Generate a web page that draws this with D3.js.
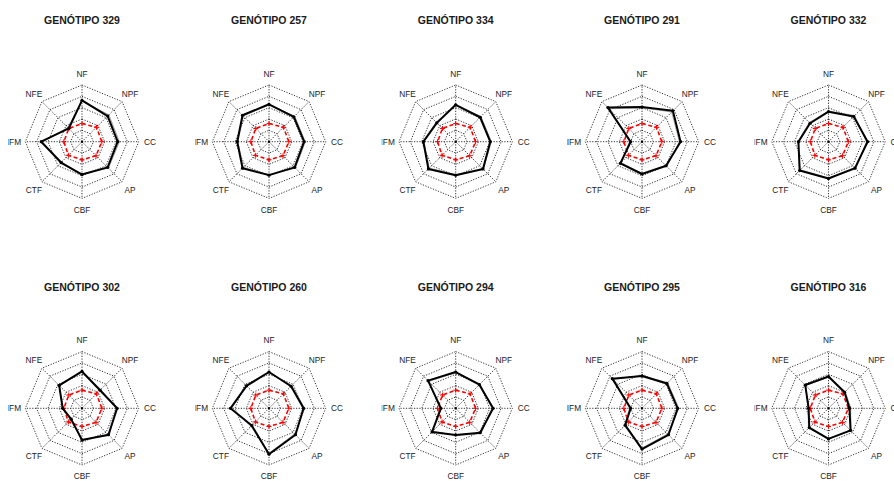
<!DOCTYPE html>
<html>
<head>
<meta charset="utf-8">
<script src="https://cdn.jsdelivr.net/npm/d3@7/dist/d3.min.js"></script>
<style>
  html, body { margin: 0; padding: 0; background: #fff; }
  svg { display: block; }
</style>
</head>
<body>
<svg id="chart" width="894" height="481"></svg>
<script>
// Axis order, clockwise from the top
const axes = ["NF", "NPF", "CC", "AP", "CBF", "CTF", "IFM", "NFE"];

// Genotype identifiers, panel order (row by row)
const genotypes = ["329", "257", "334", "291", "332", "302", "260", "294", "295", "316"];

// Scaled trait index (0-100) per genotype, in axis order
const g329 = [73, 64, 63, 64, 58, 52, 72, 33];
const g257 = [66, 62, 62, 64, 59, 66, 56, 66];
const g334 = [65, 61, 61, 68, 59, 68, 57, 47];
const g291 = [61, 77, 68, 60, 57, 54, 20, 85];
const g332 = [53, 63, 69, 66, 65, 72, 53, 46];
const g302 = [65, 45, 62, 66, 56, 27, 34, 57];
const g260 = [64, 55, 61, 66, 81, 43, 68, 56];
const g294 = [64, 59, 66, 61, 47, 59, 26, 69];
const g295 = [57, 62, 63, 66, 72, 42, 20, 74];
const g316 = [56, 40, 37, 55, 54, 48, 35, 58];
const genotypeValues = [g329, g257, g334, g291, g332, g302, g260, g294, g295, g316];

// Companion profile (thin grey trace) per genotype
const c329 = [72, 67, 66, 66, 57, 54, 70, 35];
const c257 = [65, 64, 64, 66, 58, 64, 55, 64];
const c334 = [64, 63, 63, 69, 58, 66, 56, 49];
const c291 = [60, 74, 66, 62, 56, 52, 22, 82];
const c332 = [54, 65, 67, 68, 64, 70, 54, 48];
const c302 = [64, 47, 60, 68, 55, 29, 35, 56];
const c260 = [63, 57, 63, 64, 79, 45, 66, 57];
const c294 = [63, 61, 64, 63, 48, 57, 28, 67];
const c295 = [58, 64, 65, 64, 70, 44, 22, 72];
const c316 = [55, 42, 39, 56, 53, 50, 36, 57];
const companionValues = [c329, c257, c334, c291, c332, c302, c260, c294, c295, c316];

// Reference profile (red dashed), shared by all panels
const reference = [32, 36, 35, 35, 32, 34, 32, 33];

// Grid levels
const levels = [20, 40, 60, 80, 100];

// Panel placement
const colX = [82, 269, 455.7, 642, 828.5];
const rowY = [141.7, 408.3];
const titleY = [24, 291];
const clipped = [true, true, true, false, true, true, true, true, false, true];

const R = 56.7;
const rScale = d3.scaleLinear().domain([0, 100]).range([0, R]);
const angle = d3.scaleLinear().domain([0, axes.length]).range([0, 2 * Math.PI]);

const svg = d3.select("#chart");
const defs = svg.append("defs");

function pt(i, v) {
  const a = angle(i);
  const r = rScale(v);
  return [r * Math.sin(a), -r * Math.cos(a)];
}

const radial = d3.lineRadial()
  .angle((d, i) => angle(i))
  .radius(d => rScale(d))
  .curve(d3.curveLinearClosed);

genotypes.forEach((gid, k) => {
  const col = k % 5, row = Math.floor(k / 5);
  const cx = colX[col], cy = rowY[row];

  // Title
  svg.append("text")
    .attr("x", cx).attr("y", titleY[row])
    .attr("text-anchor", "middle")
    .attr("font-family", "Liberation Sans, Arial, sans-serif")
    .attr("font-weight", "bold")
    .attr("font-size", 10.5)
    .attr("fill", "#1a1a1a")
    .text("GENÓTIPO " + gid);

  let panel = svg.append("g");
  if (clipped[k]) {
    const id = "clip" + k;
    defs.append("clipPath").attr("id", id)
      .append("rect").attr("x", cx - 74).attr("y", cy - 110)
      .attr("width", 200).attr("height", 220);
    panel.attr("clip-path", `url(#${id})`);
  }
  const g = panel.append("g").attr("transform", `translate(${cx},${cy})`);

  // Grid octagons
  levels.forEach(lv => {
    g.append("path")
      .attr("d", radial(axes.map(() => lv)))
      .attr("fill", "none")
      .attr("stroke", "#333")
      .attr("stroke-width", 1)
      .attr("stroke-dasharray", "1.2,1.5");
  });

  // Spokes
  axes.forEach((a, i) => {
    const [x, y] = pt(i, 100);
    g.append("line")
      .attr("x1", 0).attr("y1", 0).attr("x2", x).attr("y2", y)
      .attr("stroke", "#333")
      .attr("stroke-width", 1)
      .attr("stroke-dasharray", "1.2,1.5");
  });

  // Axis labels
  axes.forEach((a, i) => {
    const [x, y] = pt(i, 120);
    g.append("text")
      .attr("x", x).attr("y", y)
      .attr("text-anchor", "middle")
      .attr("dominant-baseline", "central")
      .attr("font-family", "Liberation Sans, Arial, sans-serif")
      .attr("font-size", 8.3)
      .attr("fill", "#222")
      .text(a);
  });

  // Centre point
  g.append("rect").attr("x", -1).attr("y", -1).attr("width", 2).attr("height", 2).attr("fill", "#000");

  // Reference profile
  g.append("path")
    .attr("d", radial(reference))
    .attr("fill", "none")
    .attr("stroke", "#ff0000")
    .attr("stroke-width", 1.6)
    .attr("stroke-dasharray", "4,2.5");
  reference.forEach((v, i) => {
    const [x, y] = pt(i, v);
    g.append("path")
      .attr("d", `M${x - 2.5},${y}H${x + 2.5}M${x},${y - 2.5}V${y + 2.5}`)
      .attr("stroke", "#ff0000")
      .attr("stroke-width", 1);
  });

  // Companion profile
  g.append("path")
    .attr("d", radial(companionValues[k]))
    .attr("fill", "none")
    .attr("stroke", "#8a8a8a")
    .attr("stroke-width", 0.8);

  // Genotype profile
  const vals = genotypeValues[k];
  g.append("path")
    .attr("d", radial(vals))
    .attr("fill", "none")
    .attr("stroke", "#000")
    .attr("stroke-width", 2)
    .attr("stroke-linejoin", "round");
  vals.forEach((v, i) => {
    const [x, y] = pt(i, v);
    g.append("circle").attr("cx", x).attr("cy", y).attr("r", 1.6).attr("fill", "#000");
  });
});
</script>
</body>
</html>
